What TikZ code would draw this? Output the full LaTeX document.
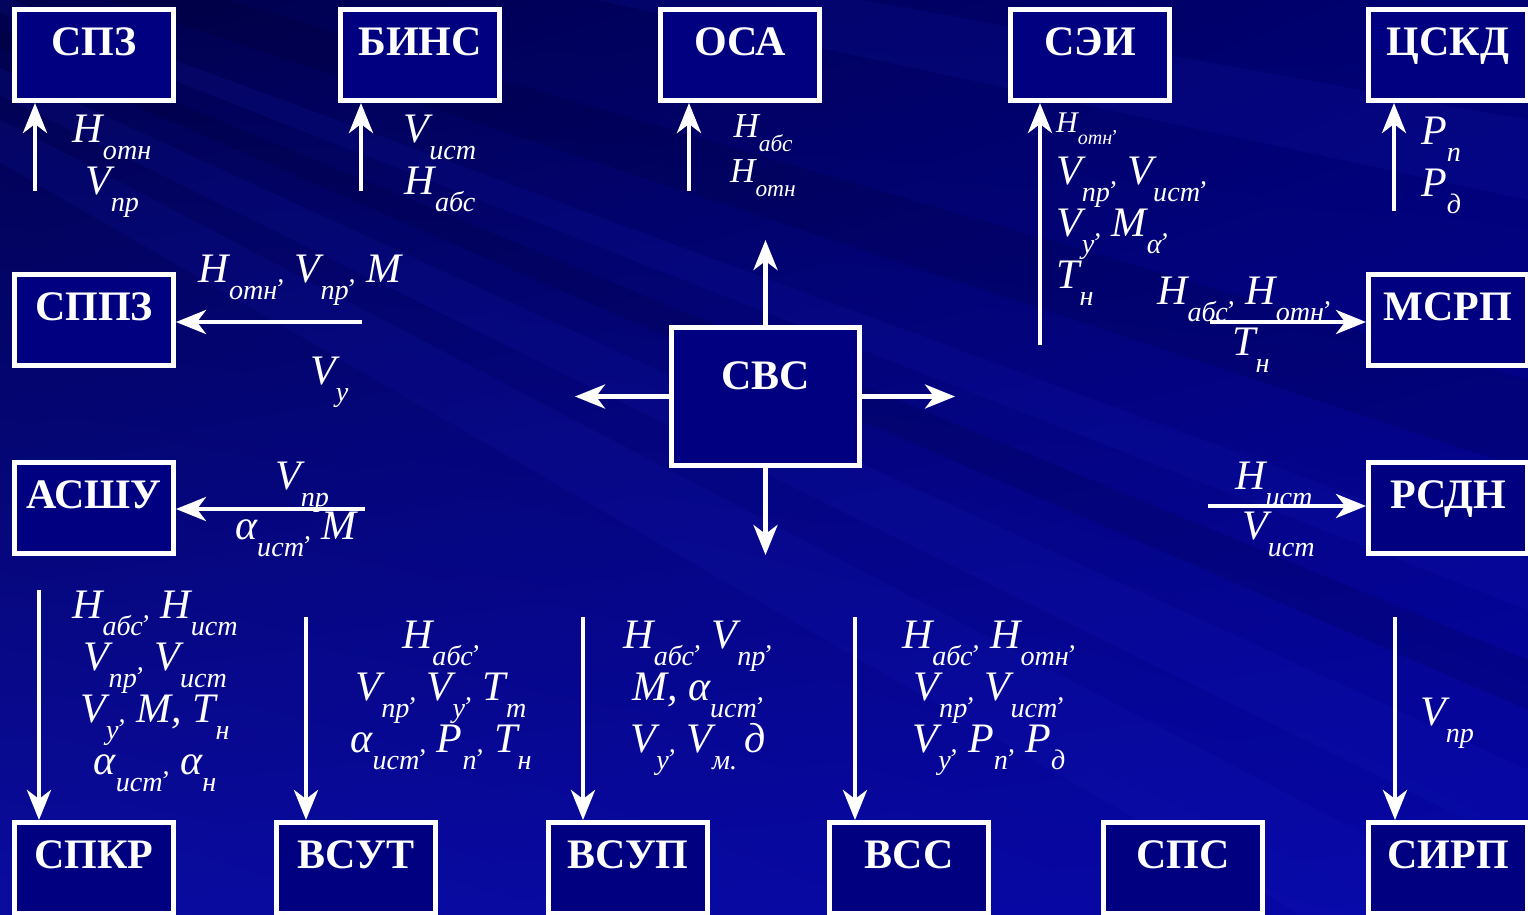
\documentclass[tikz,border=0pt]{standalone}
\usepackage{fontspec}
\setmainfont{Liberation Serif}
\usetikzlibrary{arrows.meta,shadings}

\definecolor{boxnavy}{HTML}{000080}
\definecolor{bgtl}{HTML}{00004C}
\definecolor{bgtr}{HTML}{000072}
\definecolor{bgbl}{HTML}{0A0C9E}
\definecolor{bgbr}{HTML}{0606A6}
\definecolor{streaklight}{HTML}{1A22C8}

\newlength\subsz
\newcommand{\dn}[1]{\setlength\subsz{.67em}\raisebox{-.4em}{\fontsize{\subsz}{\subsz}\selectfont #1}}
\newcommand{\dnc}[1]{\dn{#1}{\setlength\subsz{.67em}\fontsize{\subsz}{\subsz}\selectfont,}}
\lineskiplimit=-100pt

\begin{document}
\begin{tikzpicture}[
    x=1pt, y=-1pt,
    sysbox/.style={draw=white, line width=5pt, fill=boxnavy, text=white,
        font=\fontsize{42}{42}\selectfont\bfseries, minimum width=159pt,
        inner xsep=0pt, inner ysep=17pt, text height=29pt, text depth=28pt},
    lbl/.style={text=white, inner sep=0pt, align=center,
        font=\fontsize{42}{52}\selectfont\itshape},
    arr/.style={draw=white, line width=4.5pt, -{Stealth[length=30pt, width=24pt, inset=9pt]}},
    lightband/.style={fill=streaklight, opacity=.12},
    darkband/.style={fill=black, opacity=.1}
]
\clip (0,0) rectangle (1528,914);
\shade[upper left=bgtl, upper right=bgtr, lower left=bgbl, lower right=bgbr] (0,0) rectangle (1528,914);
\fill[lightband] (-800,-300) -- (1528,120) -- (1528,200) -- cycle;
\fill[darkband]  (-800,-300) -- (1528,380) -- (1528,470) -- cycle;
\fill[lightband] (-800,-300) -- (1528,560) -- (1528,610) -- cycle;
\fill[darkband]  (-800,-300) -- (1528,660) -- (1528,710) -- cycle;
\fill[lightband] (-800,-300) -- (1528,770) -- (1528,850) -- cycle;
\fill[lightband] (-800,-300) -- (1528,920) -- (1300,914) -- cycle;

\node[sysbox] (spz)  at (94,55)   {СПЗ};
\node[sysbox] (bins) at (420,55)  {БИНС};
\node[sysbox] (osa)  at (740,55)  {ОСА};
\node[sysbox] (sei)  at (1090,55) {СЭИ};
\node[sysbox] (cskd) at (1448,55) {ЦСКД};
\node[sysbox] (sppz)  at (94,320)   {СППЗ};
\node[sysbox] (asshu) at (94,508)   {АСШУ};
\node[sysbox] (msrp)  at (1448,320) {МСРП};
\node[sysbox] (rsdn)  at (1448,508) {РСДН};
\node[sysbox, minimum width=188pt, inner ysep=33pt, text depth=43pt] (svc) at (765.5,396.5) {СВС};
\node[sysbox] (spkr) at (94,868)   {СПКР};
\node[sysbox] (vsut) at (356,868)  {ВСУТ};
\node[sysbox] (vsup) at (628,868)  {ВСУП};
\node[sysbox] (vss)  at (909,868)  {ВСС};
\node[sysbox] (sps)  at (1183,868) {СПС};
\node[sysbox] (sirp) at (1448,868) {СИРП};

\coordinate (spzin)   at (35,191);
\coordinate (binsin)  at (361,191);
\coordinate (osain)   at (689,191);
\coordinate (seiin)   at (1040,345);
\coordinate (cskdin)  at (1394,211);
\coordinate (sppzin)  at (362,322);
\coordinate (asshuin) at (365,509);
\coordinate (msrpin)  at (1210,322);
\coordinate (rsdnin)  at (1208,506);
\coordinate (spkrin)  at (39,590);
\coordinate (vsutin)  at (306,617);
\coordinate (vsupin)  at (583,617);
\coordinate (vssin)   at (855,617);
\coordinate (sirpin)  at (1395,617);
\coordinate (svcup)    at (765.5,240);
\coordinate (svcleft)  at (575,396.5);
\coordinate (svcright) at (955,396.5);
\coordinate (svcdown)  at (765.5,555);

\draw[arr] (spzin) -- (spzin |- spz.south);
\draw[arr] (binsin) -- (binsin |- bins.south);
\draw[arr] (osain) -- (osain |- osa.south);
\draw[arr] (seiin) -- (seiin |- sei.south);
\draw[arr] (cskdin) -- (cskdin |- cskd.south);
\draw[arr] (sppzin) -- (sppzin -| sppz.east);
\draw[arr] (asshuin) -- (asshuin -| asshu.east);
\draw[arr] (msrpin) -- (msrpin -| msrp.west);
\draw[arr] (rsdnin) -- (rsdnin -| rsdn.west);
\draw[arr] (spkrin) -- (spkrin |- spkr.north);
\draw[arr] (vsutin) -- (vsutin |- vsut.north);
\draw[arr] (vsupin) -- (vsupin |- vsup.north);
\draw[arr] (vssin) -- (vssin |- vss.north);
\draw[arr] (sirpin) -- (sirpin |- sirp.north);
\draw[arr] (svc.north) -- (svcup);
\draw[arr] (svc.west) -- (svcleft);
\draw[arr] (svc.east) -- (svcright);
\draw[arr] (svc.south) -- (svcdown);

\node[lbl, anchor=north] (spzlbl) at (112,115) {H\dn{отн}\\V\dn{пр}};
\node[lbl, anchor=north] (binslbl) at (440,115) {V\dn{ист}\\H\dn{абс}};
\node[lbl, anchor=north, font=\fontsize{35}{45}\selectfont\itshape] (osalbl) at (763,114) {H\dn{абс}\\H\dn{отн}};
\node[lbl, anchor=north west, align=left] (seilbl) at (1056,113)
    {{\fontsize{30}{30}\selectfont H\dnc{отн}}\\V\dnc{пр} V\dnc{ист}\\V\dnc{у} M\dnc{α}\\T\dn{н}};
\node[lbl, anchor=north west, align=left] (cskdlbl) at (1421,117) {P\dn{п}\\P\dn{д}};
\node[lbl, anchor=north] (sppzlbla) at (300,255) {H\dnc{отн} V\dnc{пр} M};
\node[lbl, anchor=north west] (sppzlblb) at (310,357) {V\dn{у}};
\node[lbl, anchor=north west] (asshulbla) at (275,462) {V\dn{пр}};
\node[lbl, anchor=north west] (asshulblb) at (235,512) {α\dnc{ист} M};
\node[lbl, anchor=north west] (msrplbla) at (1157,277) {H\dnc{абс} H\dnc{отн}};
\node[lbl, anchor=north west] (msrplblb) at (1232,328) {T\dn{н}};
\node[lbl, anchor=north west] (rsdnlbla) at (1235,462) {H\dn{ист}};
\node[lbl, anchor=north west] (rsdnlblb) at (1242,512) {V\dn{ист}};
\node[lbl, anchor=north] (spkrlbl) at (155,591)
    {H\dnc{абс} H\dn{ист}\\V\dnc{пр} V\dn{ист}\\V\dnc{у} M, T\dn{н}\\α\dnc{ист} α\dn{н}};
\node[lbl, anchor=north] (vsutlbl) at (441,621)
    {H\dnc{абс}\\V\dnc{пр} V\dnc{у} T\dn{т}\\α\dnc{ист} P\dnc{п} T\dn{н}};
\node[lbl, anchor=north] (vsuplbl) at (698,621)
    {H\dnc{абс} V\dnc{пр}\\M, α\dnc{ист}\\V\dnc{у} V\dn{м.}\,д};
\node[lbl, anchor=north] (vsslbl) at (989,621)
    {H\dnc{абс} H\dnc{отн}\\V\dnc{пр} V\dnc{ист}\\V\dnc{у} P\dnc{п} P\dn{д}};
\node[lbl, anchor=north west] (sirplbl) at (1420,698) {V\dn{пр}};
\end{tikzpicture}
\end{document}
